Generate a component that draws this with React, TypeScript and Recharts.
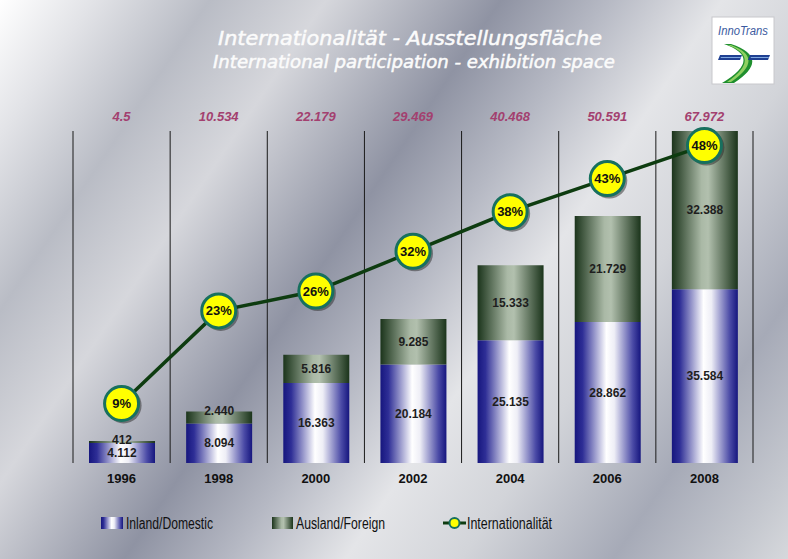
import React from 'react'
import { ComposedChart, Bar, Line, XAxis, YAxis, CartesianGrid, LabelList } from 'recharts'

// Ausstellungsfläche in m², 1996-2008
const years = ['1996', '1998', '2000', '2002', '2004', '2006', '2008']
const inland = [4112, 8094, 16363, 20184, 25135, 28862, 35584]
const ausland = [412, 2440, 5816, 9285, 15333, 21729, 32388]
const totalLabels = ['4.5', '10.534', '22.179', '29.469', '40.468', '50.591', '67.972']
const internationalitaet = [9, 23, 26, 32, 38, 43, 48]

const data = years.map((year, i) => ({
  year,
  inland: inland[i],
  ausland: ausland[i],
  total: totalLabels[i],
  pct: internationalitaet[i],
}))

const W = 788
const H = 559
const font = "'Liberation Sans', Arial, sans-serif"
const narrow = "'Liberation Sans Narrow', 'Liberation Sans', Arial, sans-serif"
const titleFont = "'DejaVu Sans', Verdana, sans-serif"

const fmt = (v: any) => Number(v).toLocaleString('de-DE')

const YearTick = ({ x, y, payload }: any) => (
  <text x={x} y={y} dy={12} textAnchor="middle" fontFamily={font} fontWeight="bold" fontSize={13} fill="#111">
    {payload.value}
  </text>
)

const TotalTick = ({ x, y, payload }: any) => (
  <text x={x} y={y} dy={-2} textAnchor="middle" fontFamily={font} fontWeight="bold" fontStyle="italic" fontSize={13} fill="#a3406f">
    {payload.value}
  </text>
)

// segment label; a very thin segment gets its label lifted just above it
const SegLabel = (props: any) => {
  const { x, y, width, height, value } = props
  const cx = x + width / 2
  const cy = height < 14 ? y - 1 : y + height / 2
  return (
    <text x={cx} y={cy} textAnchor="middle" dominantBaseline="central" fontFamily={font} fontWeight="bold" fontSize={12} fill="#1e1e1e">
      {fmt(value)}
    </text>
  )
}

const PctDot = (props: any) => {
  const { cx, cy, index, payload } = props
  return (
    <g key={`dot-${index}`}>
      <circle cx={cx + 2} cy={cy + 2} r={18} fill="#2a2a2a" opacity={0.5} />
      <circle cx={cx} cy={cy} r={17} fill="#ffff00" stroke="#17705e" strokeWidth={3} />
      <text x={cx} y={cy} textAnchor="middle" dominantBaseline="central" fontFamily={font} fontWeight="bold" fontSize={13} fill="#111">
        {payload.pct}%
      </text>
    </g>
  )
}

const gridX = ({ offset }: any) => Array.from({ length: years.length + 1 }, (_, i) => offset.left + (i * offset.width) / years.length)

function Gradients({ p }: { p: string }) {
  return (
    <defs>
      <linearGradient id={`${p}Blue`} x1="0" y1="0" x2="1" y2="0">
        <stop offset="0" stopColor="#16167e" />
        <stop offset="0.12" stopColor="#2e2e96" />
        <stop offset="0.48" stopColor="#ffffff" />
        <stop offset="0.6" stopColor="#eeeef6" />
        <stop offset="0.88" stopColor="#4a4aa6" />
        <stop offset="1" stopColor="#16167e" />
      </linearGradient>
      <linearGradient id={`${p}Green`} x1="0" y1="0" x2="1" y2="0">
        <stop offset="0" stopColor="#1b341b" />
        <stop offset="0.45" stopColor="#aab9a6" />
        <stop offset="0.55" stopColor="#b2c0ae" />
        <stop offset="1" stopColor="#1b341b" />
      </linearGradient>
    </defs>
  )
}

export default function App() {
  return (
    <div
      style={{
        position: 'absolute',
        left: 0,
        top: 0,
        width: W,
        height: H,
        background:
          'linear-gradient(124deg, #ffffff 0%, #e2e3e7 8%, #b9bcc5 18%, #d6d7dc 28%, #8f93a3 43%, #b5b8c3 52%, #e4e5e8 62%, #d2d4d9 72%, #a6aab7 85%, #c5c8cf 95%, #d6d8dc 100%)',
      }}
    >
      <ComposedChart
        width={W}
        height={H}
        data={data}
        margin={{ top: 101, right: 35, left: 73, bottom: 66 }}
        style={{ position: 'absolute', left: 0, top: 0 }}
      >
        <Gradients p="bar" />
        <CartesianGrid horizontal={false} yAxisId="left" stroke="#1a1a1a" verticalCoordinatesGenerator={gridX} />
        <XAxis dataKey="year" axisLine={false} tickLine={false} height={30} interval={0} tick={YearTick} />
        <XAxis xAxisId="top" orientation="top" dataKey="total" axisLine={false} tickLine={false} height={30} interval={0} tick={TotalTick} />
        <YAxis yAxisId="left" hide domain={[0, 67972]} />
        <YAxis yAxisId="right" orientation="right" hide domain={[0, 50.2]} />
        <Bar yAxisId="left" dataKey="inland" stackId="a" fill="url(#barBlue)" barSize={66} isAnimationActive={false}>
          <LabelList dataKey="inland" content={SegLabel} />
        </Bar>
        <Bar yAxisId="left" dataKey="ausland" stackId="a" fill="url(#barGreen)" barSize={66} isAnimationActive={false}>
          <LabelList dataKey="ausland" content={SegLabel} />
        </Bar>
        <Line
          yAxisId="right"
          type="linear"
          dataKey="pct"
          stroke="#0e3c10"
          strokeWidth={3.5}
          dot={PctDot}
          activeDot={false}
          isAnimationActive={false}
        />
      </ComposedChart>

      <svg width={W} height={H} style={{ position: 'absolute', left: 0, top: 0, pointerEvents: 'none' }}>
        <Gradients p="leg" />
        {/* title */}
        <text x={218} y={45} textLength={384} lengthAdjust="spacingAndGlyphs" fontFamily={titleFont} fontStyle="italic" fontSize={19.5} fill="#fbfbfb" stroke="#fbfbfb" strokeWidth={0.5}>
          Internationalität - Ausstellungsfläche
        </text>
        <text x={213} y={68} textLength={402} lengthAdjust="spacingAndGlyphs" fontFamily={titleFont} fontStyle="italic" fontSize={17.5} fill="#fbfbfb" stroke="#fbfbfb" strokeWidth={0.5}>
          International participation - exhibition space
        </text>

        {/* logo */}
        <rect x={712} y={17} width={62} height={67} fill="#ffffff" stroke="#c8c8cc" strokeWidth={1} />
        <text x={743} y={35} textAnchor="middle" textLength={50} lengthAdjust="spacingAndGlyphs" fontFamily={font} fontStyle="italic" fontSize={12} fill="#3b5aa0">
          InnoTrans
        </text>
        <path d="M724 44 Q764 58 722 83 L734 83 Q772 58 731 44 Z" fill="#1f8f2e" />
        <path d="M728 45 Q762 58 727 82 L731 82 Q766 58 731 45 Z" fill="#8fd060" />
        <path d="M720 55 L742 55 L740 60 L718 60 Z" fill="#1e3f92" />
        <path d="M750 55 L770 55 L768 60 L748 60 Z" fill="#1e3f92" />
        <path d="M721 57 L741 57 L740.5 58 L720.5 58 Z" fill="#7fa8e0" />
        <path d="M751 57 L769 57 L768.5 58 L750.5 58 Z" fill="#7fa8e0" />

        {/* legend */}
        <rect x={101} y={517} width={22} height={12} fill="url(#legBlue)" />
        <text x={126} y={529} textLength={87} lengthAdjust="spacingAndGlyphs" fontFamily={narrow} fontSize={16} fill="#111">
          Inland/Domestic
        </text>
        <rect x={272} y={517} width={21} height={12} fill="url(#legGreen)" />
        <text x={296} y={529} textLength={89} lengthAdjust="spacingAndGlyphs" fontFamily={narrow} fontSize={16} fill="#111">
          Ausland/Foreign
        </text>
        <line x1={443} y1={523} x2={466} y2={523} stroke="#0e3c10" strokeWidth={3} />
        <circle cx={454.5} cy={523} r={5} fill="#ffff00" stroke="#17705e" strokeWidth={2} />
        <text x={467} y={529} textLength={85} lengthAdjust="spacingAndGlyphs" fontFamily={narrow} fontSize={16} fill="#111">
          Internationalität
        </text>
      </svg>
    </div>
  )
}
